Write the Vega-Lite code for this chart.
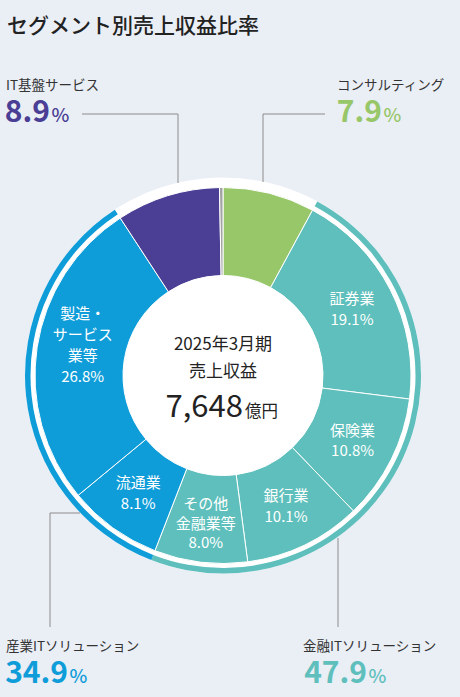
{
  "$schema": "https://vega.github.io/schema/vega-lite/v6.json",
  "width": 460,
  "height": 697,
  "autosize": {"type": "fit", "contains": "padding"},
  "padding": 0,
  "background": "#eaeef5",
  "config": {"view": {"stroke": null}, "font": "Noto Sans CJK JP"},
  "datasets": {
    "segments": [
      {"idx": 1, "segment": "コンサルティング", "group": "コンサルティング", "share": 7.9, "label": ""},
      {"idx": 2, "segment": "証券業", "group": "金融ITソリューション", "share": 19.1, "label": "証券業\n19.1%"},
      {"idx": 3, "segment": "保険業", "group": "金融ITソリューション", "share": 10.8, "label": "保険業\n10.8%"},
      {"idx": 4, "segment": "銀行業", "group": "金融ITソリューション", "share": 10.1, "label": "銀行業\n10.1%"},
      {"idx": 5, "segment": "その他金融業等", "group": "金融ITソリューション", "share": 8.0, "label": "その他\n金融業等\n8.0%"},
      {"idx": 6, "segment": "流通業", "group": "産業ITソリューション", "share": 8.1, "label": "流通業\n8.1%"},
      {"idx": 7, "segment": "製造・サービス業等", "group": "産業ITソリューション", "share": 26.8, "label": "製造・\nサービス\n業等\n26.8%"},
      {"idx": 8, "segment": "IT基盤サービス", "group": "IT基盤サービス", "share": 8.9, "label": ""},
      {"idx": 9, "segment": "その他", "group": "その他", "share": 0.3, "label": ""}
    ],
    "groups": [
      {"group": "IT基盤サービス", "pct": "8.9"},
      {"group": "コンサルティング", "pct": "7.9"},
      {"group": "産業ITソリューション", "pct": "34.9"},
      {"group": "金融ITソリューション", "pct": "47.9"}
    ],
    "summary": [
      {"title": "セグメント別売上収益比率", "period": "2025年3月期", "metric": "売上収益", "value": "7,648", "unit": "億円"}
    ]
  },
  "resolve": {"scale": {"color": "independent", "theta": "independent"}},
  "layer": [
    {
      "data": {"name": "summary"},
      "mark": {"type": "arc", "radius": 198, "radius2": 0, "theta": 0, "theta2": 6.2832, "color": "#ffffff"},
      "encoding": {
        "x": {"datum": 223, "type": "quantitative", "scale": {"domain": [0, 460], "nice": false, "zero": false}, "axis": null},
        "y": {"datum": 375.5, "type": "quantitative", "scale": {"domain": [0, 697], "nice": false, "zero": false, "reverse": true}, "axis": null}
      }
    },
    {
      "data": {"name": "segments"},
      "mark": {"type": "arc", "radius": 188, "radius2": 100, "stroke": "#ffffff", "strokeWidth": 1},
      "encoding": {
        "x": {"datum": 223, "type": "quantitative", "scale": {"domain": [0, 460], "nice": false, "zero": false}, "axis": null},
        "y": {"datum": 375.5, "type": "quantitative", "scale": {"domain": [0, 697], "nice": false, "zero": false, "reverse": true}, "axis": null},
        "theta": {"field": "share", "type": "quantitative", "stack": true},
        "order": {"field": "idx", "type": "quantitative"},
        "color": {
          "field": "segment", "type": "nominal", "legend": null,
          "scale": {
            "domain": ["コンサルティング", "証券業", "保険業", "銀行業", "その他金融業等", "流通業", "製造・サービス業等", "IT基盤サービス", "その他"],
            "range": ["#98c76a", "#5ebfbc", "#5ebfbc", "#5ebfbc", "#5ebfbc", "#0f9dd9", "#0f9dd9", "#4a3f95", "#a3a3a3"]
          }
        }
      }
    },
    {
      "data": {"name": "segments"},
      "transform": [
        {"aggregate": [{"op": "sum", "field": "share", "as": "share"}, {"op": "min", "field": "idx", "as": "idx"}], "groupby": ["group"]}
      ],
      "mark": {"type": "arc", "radius": 198, "radius2": 192.5},
      "encoding": {
        "x": {"datum": 223, "type": "quantitative", "scale": {"domain": [0, 460], "nice": false, "zero": false}, "axis": null},
        "y": {"datum": 375.5, "type": "quantitative", "scale": {"domain": [0, 697], "nice": false, "zero": false, "reverse": true}, "axis": null},
        "theta": {"field": "share", "type": "quantitative", "stack": true},
        "order": {"field": "idx", "type": "quantitative"},
        "color": {
          "field": "group", "type": "nominal", "legend": null,
          "scale": {
            "domain": ["コンサルティング", "金融ITソリューション", "産業ITソリューション", "IT基盤サービス", "その他"],
            "range": ["transparent", "#5ebfbc", "#0f9dd9", "transparent", "transparent"]
          }
        }
      }
    },
    {
      "data": {"name": "segments"},
      "mark": {"type": "text", "radius": 145, "dy": -10, "color": "#ffffff", "fontSize": 15, "lineBreak": "\n", "lineHeight": 20.5, "align": "center", "baseline": "middle"},
      "encoding": {
        "x": {"datum": 223, "type": "quantitative", "scale": {"domain": [0, 460], "nice": false, "zero": false}, "axis": null},
        "y": {"datum": 375.5, "type": "quantitative", "scale": {"domain": [0, 697], "nice": false, "zero": false, "reverse": true}, "axis": null},
        "theta": {"field": "share", "type": "quantitative", "stack": true},
        "order": {"field": "idx", "type": "quantitative"},
        "text": {"condition": {"test": "length(split(datum.label, '\\n')) === 2", "field": "label"}, "value": ""}
      }
    },
    {
      "data": {"name": "segments"},
      "mark": {"type": "text", "radius": 145, "dy": -15, "color": "#ffffff", "fontSize": 15, "lineBreak": "\n", "lineHeight": 19.5, "align": "center", "baseline": "middle"},
      "encoding": {
        "x": {"datum": 223, "type": "quantitative", "scale": {"domain": [0, 460], "nice": false, "zero": false}, "axis": null},
        "y": {"datum": 375.5, "type": "quantitative", "scale": {"domain": [0, 697], "nice": false, "zero": false, "reverse": true}, "axis": null},
        "theta": {"field": "share", "type": "quantitative", "stack": true},
        "order": {"field": "idx", "type": "quantitative"},
        "text": {"condition": {"test": "length(split(datum.label, '\\n')) === 3", "field": "label"}, "value": ""}
      }
    },
    {
      "data": {"name": "segments"},
      "mark": {"type": "text", "radius": 145, "dx": 3, "dy": -40, "color": "#ffffff", "fontSize": 15, "lineBreak": "\n", "lineHeight": 21, "align": "center", "baseline": "middle"},
      "encoding": {
        "x": {"datum": 223, "type": "quantitative", "scale": {"domain": [0, 460], "nice": false, "zero": false}, "axis": null},
        "y": {"datum": 375.5, "type": "quantitative", "scale": {"domain": [0, 697], "nice": false, "zero": false, "reverse": true}, "axis": null},
        "theta": {"field": "share", "type": "quantitative", "stack": true},
        "order": {"field": "idx", "type": "quantitative"},
        "text": {"condition": {"test": "length(split(datum.label, '\\n')) === 4", "field": "label"}, "value": ""}
      }
    },
    {
      "data": {"name": "summary"},
      "mark": {"type": "text", "fontSize": 17, "color": "#222222", "align": "center", "baseline": "alphabetic"},
      "encoding": {
        "x": {"datum": 223, "type": "quantitative", "scale": {"domain": [0, 460], "nice": false, "zero": false}, "axis": null},
        "y": {"datum": 350, "type": "quantitative", "scale": {"domain": [0, 697], "nice": false, "zero": false, "reverse": true}, "axis": null},
        "text": {"field": "period", "type": "nominal"}
      }
    },
    {
      "data": {"name": "summary"},
      "mark": {"type": "text", "fontSize": 17, "color": "#222222", "align": "center", "baseline": "alphabetic"},
      "encoding": {
        "x": {"datum": 223, "type": "quantitative", "scale": {"domain": [0, 460], "nice": false, "zero": false}, "axis": null},
        "y": {"datum": 377, "type": "quantitative", "scale": {"domain": [0, 697], "nice": false, "zero": false, "reverse": true}, "axis": null},
        "text": {"field": "metric", "type": "nominal"}
      }
    },
    {
      "data": {"name": "summary"},
      "mark": {"type": "text", "fontSize": 31, "color": "#222222", "align": "right", "baseline": "alphabetic"},
      "encoding": {
        "x": {"datum": 243, "type": "quantitative", "scale": {"domain": [0, 460], "nice": false, "zero": false}, "axis": null},
        "y": {"datum": 417, "type": "quantitative", "scale": {"domain": [0, 697], "nice": false, "zero": false, "reverse": true}, "axis": null},
        "text": {"field": "value", "type": "nominal"}
      }
    },
    {
      "data": {"name": "summary"},
      "mark": {"type": "text", "fontSize": 16.5, "color": "#222222", "align": "left", "baseline": "alphabetic"},
      "encoding": {
        "x": {"datum": 245, "type": "quantitative", "scale": {"domain": [0, 460], "nice": false, "zero": false}, "axis": null},
        "y": {"datum": 417, "type": "quantitative", "scale": {"domain": [0, 697], "nice": false, "zero": false, "reverse": true}, "axis": null},
        "text": {"field": "unit", "type": "nominal"}
      }
    },
    {
      "data": {"name": "summary"},
      "mark": {"type": "text", "fontSize": 21, "fontWeight": 500, "color": "#222222", "align": "left", "baseline": "alphabetic"},
      "encoding": {
        "x": {"datum": 7, "type": "quantitative", "scale": {"domain": [0, 460], "nice": false, "zero": false}, "axis": null},
        "y": {"datum": 33, "type": "quantitative", "scale": {"domain": [0, 697], "nice": false, "zero": false, "reverse": true}, "axis": null},
        "text": {"field": "title", "type": "nominal"}
      }
    },
    {
      "data": {"name": "summary"},
      "mark": {"type": "rule", "color": "#8c8c8c", "strokeWidth": 1},
      "encoding": {
        "x": {"datum": 82, "type": "quantitative", "scale": {"domain": [0, 460], "nice": false, "zero": false}, "axis": null},
        "x2": {"datum": 178},
        "y": {"datum": 114, "type": "quantitative", "scale": {"domain": [0, 697], "nice": false, "zero": false, "reverse": true}, "axis": null},
        "y2": {"datum": 114}
      }
    },
    {
      "data": {"name": "summary"},
      "mark": {"type": "rule", "color": "#8c8c8c", "strokeWidth": 1},
      "encoding": {
        "x": {"datum": 178, "type": "quantitative", "scale": {"domain": [0, 460], "nice": false, "zero": false}, "axis": null},
        "x2": {"datum": 178},
        "y": {"datum": 114, "type": "quantitative", "scale": {"domain": [0, 697], "nice": false, "zero": false, "reverse": true}, "axis": null},
        "y2": {"datum": 183}
      }
    },
    {
      "data": {"name": "summary"},
      "mark": {"type": "rule", "color": "#8c8c8c", "strokeWidth": 1},
      "encoding": {
        "x": {"datum": 263, "type": "quantitative", "scale": {"domain": [0, 460], "nice": false, "zero": false}, "axis": null},
        "x2": {"datum": 325},
        "y": {"datum": 114, "type": "quantitative", "scale": {"domain": [0, 697], "nice": false, "zero": false, "reverse": true}, "axis": null},
        "y2": {"datum": 114}
      }
    },
    {
      "data": {"name": "summary"},
      "mark": {"type": "rule", "color": "#8c8c8c", "strokeWidth": 1},
      "encoding": {
        "x": {"datum": 263, "type": "quantitative", "scale": {"domain": [0, 460], "nice": false, "zero": false}, "axis": null},
        "x2": {"datum": 263},
        "y": {"datum": 114, "type": "quantitative", "scale": {"domain": [0, 697], "nice": false, "zero": false, "reverse": true}, "axis": null},
        "y2": {"datum": 182}
      }
    },
    {
      "data": {"name": "summary"},
      "mark": {"type": "rule", "color": "#8c8c8c", "strokeWidth": 1},
      "encoding": {
        "x": {"datum": 50, "type": "quantitative", "scale": {"domain": [0, 460], "nice": false, "zero": false}, "axis": null},
        "x2": {"datum": 80},
        "y": {"datum": 513, "type": "quantitative", "scale": {"domain": [0, 697], "nice": false, "zero": false, "reverse": true}, "axis": null},
        "y2": {"datum": 513}
      }
    },
    {
      "data": {"name": "summary"},
      "mark": {"type": "rule", "color": "#8c8c8c", "strokeWidth": 1},
      "encoding": {
        "x": {"datum": 50, "type": "quantitative", "scale": {"domain": [0, 460], "nice": false, "zero": false}, "axis": null},
        "x2": {"datum": 50},
        "y": {"datum": 513, "type": "quantitative", "scale": {"domain": [0, 697], "nice": false, "zero": false, "reverse": true}, "axis": null},
        "y2": {"datum": 627}
      }
    },
    {
      "data": {"name": "summary"},
      "mark": {"type": "rule", "color": "#8c8c8c", "strokeWidth": 1},
      "encoding": {
        "x": {"datum": 338, "type": "quantitative", "scale": {"domain": [0, 460], "nice": false, "zero": false}, "axis": null},
        "x2": {"datum": 338},
        "y": {"datum": 538, "type": "quantitative", "scale": {"domain": [0, 697], "nice": false, "zero": false, "reverse": true}, "axis": null},
        "y2": {"datum": 627}
      }
    },
    {
      "data": {"name": "groups"},
      "transform": [{"filter": "datum.group === 'IT基盤サービス'"}],
      "mark": {"type": "text", "fontSize": 13.5, "color": "#333333", "align": "left", "baseline": "alphabetic"},
      "encoding": {
        "x": {"datum": 6, "type": "quantitative", "scale": {"domain": [0, 460], "nice": false, "zero": false}, "axis": null},
        "y": {"datum": 90, "type": "quantitative", "scale": {"domain": [0, 697], "nice": false, "zero": false, "reverse": true}, "axis": null},
        "text": {"field": "group", "type": "nominal"}
      }
    },
    {
      "data": {"name": "groups"},
      "transform": [{"filter": "datum.group === 'IT基盤サービス'"}],
      "mark": {"type": "text", "fontSize": 30, "fontWeight": "bold", "color": "#4a3f95", "align": "right", "baseline": "alphabetic"},
      "encoding": {
        "x": {"datum": 50, "type": "quantitative", "scale": {"domain": [0, 460], "nice": false, "zero": false}, "axis": null},
        "y": {"datum": 122, "type": "quantitative", "scale": {"domain": [0, 697], "nice": false, "zero": false, "reverse": true}, "axis": null},
        "text": {"field": "pct", "type": "nominal"}
      }
    },
    {
      "data": {"name": "groups"},
      "transform": [{"filter": "datum.group === 'IT基盤サービス'"}],
      "mark": {"type": "text", "text": "%", "fontSize": 19, "fontWeight": 500, "color": "#4a3f95", "align": "left", "baseline": "alphabetic"},
      "encoding": {
        "x": {"datum": 51.5, "type": "quantitative", "scale": {"domain": [0, 460], "nice": false, "zero": false}, "axis": null},
        "y": {"datum": 122, "type": "quantitative", "scale": {"domain": [0, 697], "nice": false, "zero": false, "reverse": true}, "axis": null}
      }
    },
    {
      "data": {"name": "groups"},
      "transform": [{"filter": "datum.group === 'コンサルティング'"}],
      "mark": {"type": "text", "fontSize": 13.5, "color": "#333333", "align": "left", "baseline": "alphabetic"},
      "encoding": {
        "x": {"datum": 337, "type": "quantitative", "scale": {"domain": [0, 460], "nice": false, "zero": false}, "axis": null},
        "y": {"datum": 90, "type": "quantitative", "scale": {"domain": [0, 697], "nice": false, "zero": false, "reverse": true}, "axis": null},
        "text": {"field": "group", "type": "nominal"}
      }
    },
    {
      "data": {"name": "groups"},
      "transform": [{"filter": "datum.group === 'コンサルティング'"}],
      "mark": {"type": "text", "fontSize": 30, "fontWeight": "bold", "color": "#98c76a", "align": "right", "baseline": "alphabetic"},
      "encoding": {
        "x": {"datum": 382, "type": "quantitative", "scale": {"domain": [0, 460], "nice": false, "zero": false}, "axis": null},
        "y": {"datum": 122, "type": "quantitative", "scale": {"domain": [0, 697], "nice": false, "zero": false, "reverse": true}, "axis": null},
        "text": {"field": "pct", "type": "nominal"}
      }
    },
    {
      "data": {"name": "groups"},
      "transform": [{"filter": "datum.group === 'コンサルティング'"}],
      "mark": {"type": "text", "text": "%", "fontSize": 19, "fontWeight": 500, "color": "#98c76a", "align": "left", "baseline": "alphabetic"},
      "encoding": {
        "x": {"datum": 383.5, "type": "quantitative", "scale": {"domain": [0, 460], "nice": false, "zero": false}, "axis": null},
        "y": {"datum": 122, "type": "quantitative", "scale": {"domain": [0, 697], "nice": false, "zero": false, "reverse": true}, "axis": null}
      }
    },
    {
      "data": {"name": "groups"},
      "transform": [{"filter": "datum.group === '産業ITソリューション'"}],
      "mark": {"type": "text", "fontSize": 13.5, "color": "#333333", "align": "left", "baseline": "alphabetic"},
      "encoding": {
        "x": {"datum": 6, "type": "quantitative", "scale": {"domain": [0, 460], "nice": false, "zero": false}, "axis": null},
        "y": {"datum": 651, "type": "quantitative", "scale": {"domain": [0, 697], "nice": false, "zero": false, "reverse": true}, "axis": null},
        "text": {"field": "group", "type": "nominal"}
      }
    },
    {
      "data": {"name": "groups"},
      "transform": [{"filter": "datum.group === '産業ITソリューション'"}],
      "mark": {"type": "text", "fontSize": 30, "fontWeight": "bold", "color": "#0f9dd9", "align": "right", "baseline": "alphabetic"},
      "encoding": {
        "x": {"datum": 68, "type": "quantitative", "scale": {"domain": [0, 460], "nice": false, "zero": false}, "axis": null},
        "y": {"datum": 683, "type": "quantitative", "scale": {"domain": [0, 697], "nice": false, "zero": false, "reverse": true}, "axis": null},
        "text": {"field": "pct", "type": "nominal"}
      }
    },
    {
      "data": {"name": "groups"},
      "transform": [{"filter": "datum.group === '産業ITソリューション'"}],
      "mark": {"type": "text", "text": "%", "fontSize": 19, "fontWeight": 500, "color": "#0f9dd9", "align": "left", "baseline": "alphabetic"},
      "encoding": {
        "x": {"datum": 69.5, "type": "quantitative", "scale": {"domain": [0, 460], "nice": false, "zero": false}, "axis": null},
        "y": {"datum": 683, "type": "quantitative", "scale": {"domain": [0, 697], "nice": false, "zero": false, "reverse": true}, "axis": null}
      }
    },
    {
      "data": {"name": "groups"},
      "transform": [{"filter": "datum.group === '金融ITソリューション'"}],
      "mark": {"type": "text", "fontSize": 13.5, "color": "#333333", "align": "left", "baseline": "alphabetic"},
      "encoding": {
        "x": {"datum": 303, "type": "quantitative", "scale": {"domain": [0, 460], "nice": false, "zero": false}, "axis": null},
        "y": {"datum": 651, "type": "quantitative", "scale": {"domain": [0, 697], "nice": false, "zero": false, "reverse": true}, "axis": null},
        "text": {"field": "group", "type": "nominal"}
      }
    },
    {
      "data": {"name": "groups"},
      "transform": [{"filter": "datum.group === '金融ITソリューション'"}],
      "mark": {"type": "text", "fontSize": 30, "fontWeight": "bold", "color": "#5ebfbc", "align": "right", "baseline": "alphabetic"},
      "encoding": {
        "x": {"datum": 367, "type": "quantitative", "scale": {"domain": [0, 460], "nice": false, "zero": false}, "axis": null},
        "y": {"datum": 683, "type": "quantitative", "scale": {"domain": [0, 697], "nice": false, "zero": false, "reverse": true}, "axis": null},
        "text": {"field": "pct", "type": "nominal"}
      }
    },
    {
      "data": {"name": "groups"},
      "transform": [{"filter": "datum.group === '金融ITソリューション'"}],
      "mark": {"type": "text", "text": "%", "fontSize": 19, "fontWeight": 500, "color": "#5ebfbc", "align": "left", "baseline": "alphabetic"},
      "encoding": {
        "x": {"datum": 368.5, "type": "quantitative", "scale": {"domain": [0, 460], "nice": false, "zero": false}, "axis": null},
        "y": {"datum": 683, "type": "quantitative", "scale": {"domain": [0, 697], "nice": false, "zero": false, "reverse": true}, "axis": null}
      }
    }
  ]
}
